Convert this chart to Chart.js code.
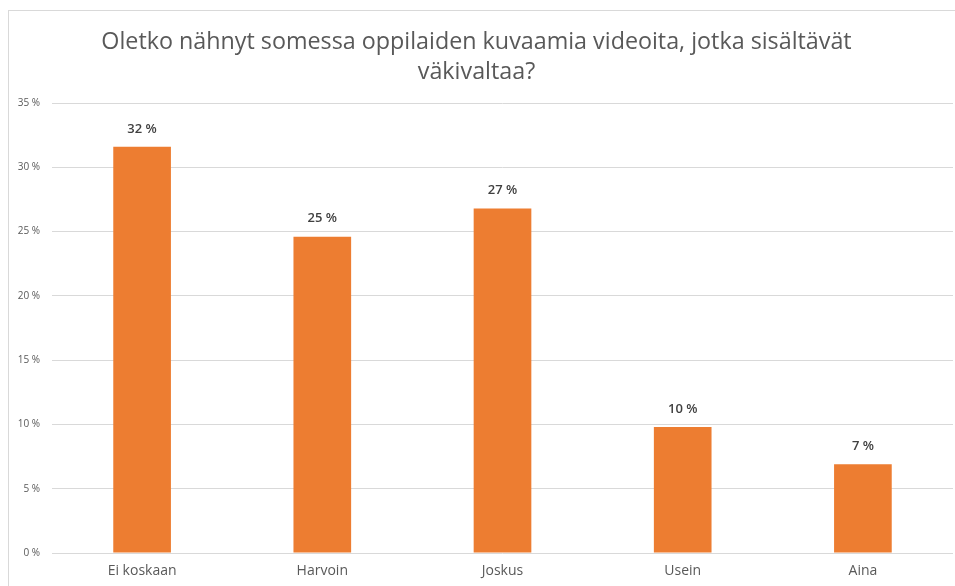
<!DOCTYPE html>
<html>
<head>
<meta charset="utf-8">
<script src="https://cdn.jsdelivr.net/npm/chart.js@4/dist/chart.umd.min.js"></script>
<style>
  html, body { margin: 0; padding: 0; background: #fff; overflow: hidden; }
  #wrap { position: relative; width: 955px; height: 586px; }
  #frame { position: absolute; left: 8px; top: 10px; width: 1000px; height: 1000px; border: 1px solid #d9d9d9; }
  canvas { position: absolute; left: 0; top: 0; }
</style>
</head>
<body>
<div id="wrap">
  <div id="frame"></div>
  <canvas id="chart" width="955" height="586"></canvas>
</div>
<script>
// data
const titleLines = ['Oletko nähnyt somessa oppilaiden kuvaamia videoita, jotka sisältävät', 'väkivaltaa?'];
const categories = ['Ei koskaan', 'Harvoin', 'Joskus', 'Usein', 'Aina'];
const shares = [31.6, 24.6, 26.8, 9.8, 6.9];
const yTicks = [0, 5, 10, 15, 20, 25, 30, 35];

const fontFamily = "'Open Sans', 'Noto Sans', sans-serif";
const textColor = '#595959';

// draws the "32 %" labels above each bar
const barLabels = {
  id: 'barLabels',
  afterDatasetsDraw(chart) {
    const ctx = chart.ctx;
    const meta = chart.getDatasetMeta(0);
    ctx.save();
    ctx.font = '600 13px ' + fontFamily;
    ctx.fillStyle = '#404040';
    ctx.textAlign = 'center';
    ctx.textBaseline = 'middle';
    meta.data.forEach((bar, i) => {
      ctx.fillText(Math.round(shares[i]) + ' %', bar.x, bar.y - 18);
    });
    ctx.restore();
  }
};

new Chart(document.getElementById('chart'), {
  type: 'bar',
  data: {
    labels: categories,
    datasets: [{
      data: shares,
      backgroundColor: '#ED7D31',
      borderWidth: 0,
      barPercentage: 0.32,
      categoryPercentage: 1
    }]
  },
  options: {
    responsive: false,
    animation: false,
    layout: { padding: { top: 0, right: 2, bottom: 0, left: 0 } },
    plugins: {
      legend: { display: false },
      tooltip: { enabled: false },
      title: {
        display: true,
        text: titleLines,
        color: textColor,
        font: { family: fontFamily, size: 23.3, weight: 'normal', lineHeight: 1.29 },
        padding: { top: 27, bottom: 16 }
      }
    },
    scales: {
      x: {
        grid: { display: false, drawTicks: false },
        border: { display: false },
        ticks: { color: textColor, font: { family: fontFamily, size: 14 }, padding: 10 },
        afterFit(scale) { scale.height = 33; }
      },
      y: {
        min: 0,
        max: 35,
        afterBuildTicks(scale) { scale.ticks = yTicks.map(v => ({ value: v })); },
        grid: { color: '#d9d9d9', lineWidth: 1, drawTicks: false },
        border: { display: false },
        ticks: {
          color: textColor,
          font: { family: fontFamily, size: 10 },
          padding: 12,
          callback: v => v + ' %'
        },
        afterFit(scale) { scale.width = 52; }
      }
    }
  },
  plugins: [barLabels]
});
</script>
</body>
</html>
